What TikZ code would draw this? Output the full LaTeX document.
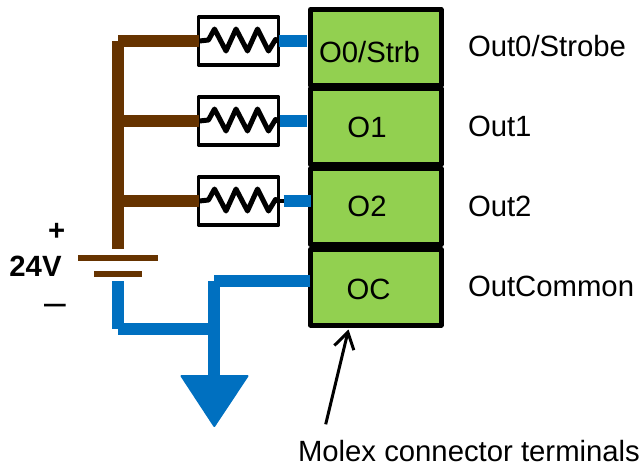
\documentclass[tikz,border=0pt]{standalone}
\usepackage{fontspec}
\setmainfont{Liberation Sans}
\usetikzlibrary{arrows.meta}
\definecolor{brownwire}{HTML}{663300}
\definecolor{bluewire}{HTML}{0070C0}
\definecolor{termgreen}{HTML}{92D050}
\tikzset{
  txt/.style={inner sep=0pt,outer sep=0pt,font=\fontsize{29.3}{34}\selectfont},
  lbl/.style={txt,anchor=base west},
  tname/.style={txt,anchor=base},
  bold/.style={txt,anchor=base,font=\fontsize{29.3}{34}\selectfont\bfseries},
  terminal/.style={draw=black,fill=termgreen,line width=5pt,line join=round,outer sep=0pt,inner sep=0pt,minimum width=130.5pt,minimum height=76pt},
  resbox/.style={draw=black,fill=white,line width=3.4pt,line join=round,outer sep=0pt,inner sep=0pt,minimum width=80pt,minimum height=48pt},
  brownw/.style={draw=brownwire,line width=12pt},
  bluew/.style={draw=bluewire,line width=12pt},
  plate/.style={draw=brownwire,line width=6pt},
  zigzag/.style={draw=black,line width=5pt,line join=round,line cap=round},
  stub/.style={draw=black,line width=3.4pt},
  pointer/.style={draw=black,line width=3pt,-{Straight Barb[length=16pt,width=20pt,line width=3pt]}}
}
\newcommand{\zigzagat}[1]{%
  \draw[zigzag] ([xshift=1pt]#1.west) -- ++(9,-1) -- ++(6,-11) -- ++(11.5,22) -- ++(10,-22) -- ++(11.5,22) -- ++(10,-22) -- ++(11,22) -- ++(7,-11.5) -- (#1.east);}
\begin{document}
\begin{tikzpicture}[x=1pt,y=-1pt]
\useasboundingbox (0,0) rectangle (641,469);
% terminal blocks
\node[terminal] (t0) at (375.75,47.5) {};
\node[terminal] (t1) at (375.75,126.75) {};
\node[terminal] (t2) at (375.75,206.75) {};
\node[terminal] (t3) at (375.75,287) {};
% resistors
\node[resbox] (r0) at (238.5,41) {};
\node[resbox] (r1) at (238.5,121) {};
\node[resbox] (r2) at (238.5,201) {};
\zigzagat{r0}
\zigzagat{r1}
\zigzagat{r2}
% battery
\coordinate (bpos) at (118,257.7);
\coordinate (bneg) at (118,273.7);
\draw[plate] (78.3,257.7) -- (158.3,257.7);
\draw[plate] (94.3,273.7) -- (142.3,273.7);
% brown wires
\coordinate (btop) at (118,41);
\coordinate (bmid) at (118,121);
\coordinate (blow) at (118,201);
\coordinate (bend) at (118,249);
\draw[brownw] (btop) -- (bend);
\draw[brownw] (btop) -- (r0.west);
\draw[brownw] (bmid) -- (r1.west);
\draw[brownw] (blow) -- (r2.west);
% blue wires
\draw[stub,shorten >=20pt] (r2.east) -- (r2.east -| t2.west);
\draw[bluew,shorten >=3.2pt] (r0.east) -- (r0.east -| t0.west);
\draw[bluew,shorten >=3.2pt,shorten <=1pt] (r1.east) -- (r1.east -| t1.west);
\draw[bluew,shorten <=5pt] (r2.east) -- (r2.east -| t2.west);
\coordinate (ocj) at (214,281);
\coordinate (oce) at (310.25,281);
\coordinate (nstart) at (118,281);
\coordinate (ncorner) at (118,329);
\coordinate (gndj) at (214,329);
\coordinate (gndtop) at (214,376);
\draw[bluew] (oce) -- (ocj);
\draw[bluew] (ocj) -- (gndtop);
\draw[bluew] (nstart) -- (ncorner);
\draw[bluew] (ncorner) -- (gndj);
\fill[bluewire,draw=bluewire,line width=2pt,line join=round] (181.5,376) -- (247.5,376) -- (214.3,426) -- cycle;
% terminal texts
\node[tname] (n0) at (369.5,62) {O0/Strb};
\node[tname] (n1) at (367,137.3) {O1};
\node[tname] (n2) at (367,216.7) {O2};
\node[tname] (n3) at (368.5,299.3) {OC};
% labels
\node[lbl] (l0) at (468,56.7) {Out0/Strobe};
\node[lbl] (l1) at (468,136) {Out1};
\node[lbl] (l2) at (468,216.7) {Out2};
\node[lbl] (l3) at (468,296.7) {OutCommon};
\node[lbl] (l4) at (298,461.7) {Molex connector terminals};
% battery labels
\node[bold] (plus) at (56.7,240) {+};
\node[bold] (volt) at (35.5,276.7) {24V};
\node[txt,anchor=base,font=\fontsize{39}{40}\selectfont] (minus) at (55.8,315) {–};
% pointer
\coordinate (ptail) at (325.7,424.3);
\coordinate (ptip) at (348.5,329.5);
\draw[pointer] (ptail) -- (ptip);
\end{tikzpicture}
\end{document}
